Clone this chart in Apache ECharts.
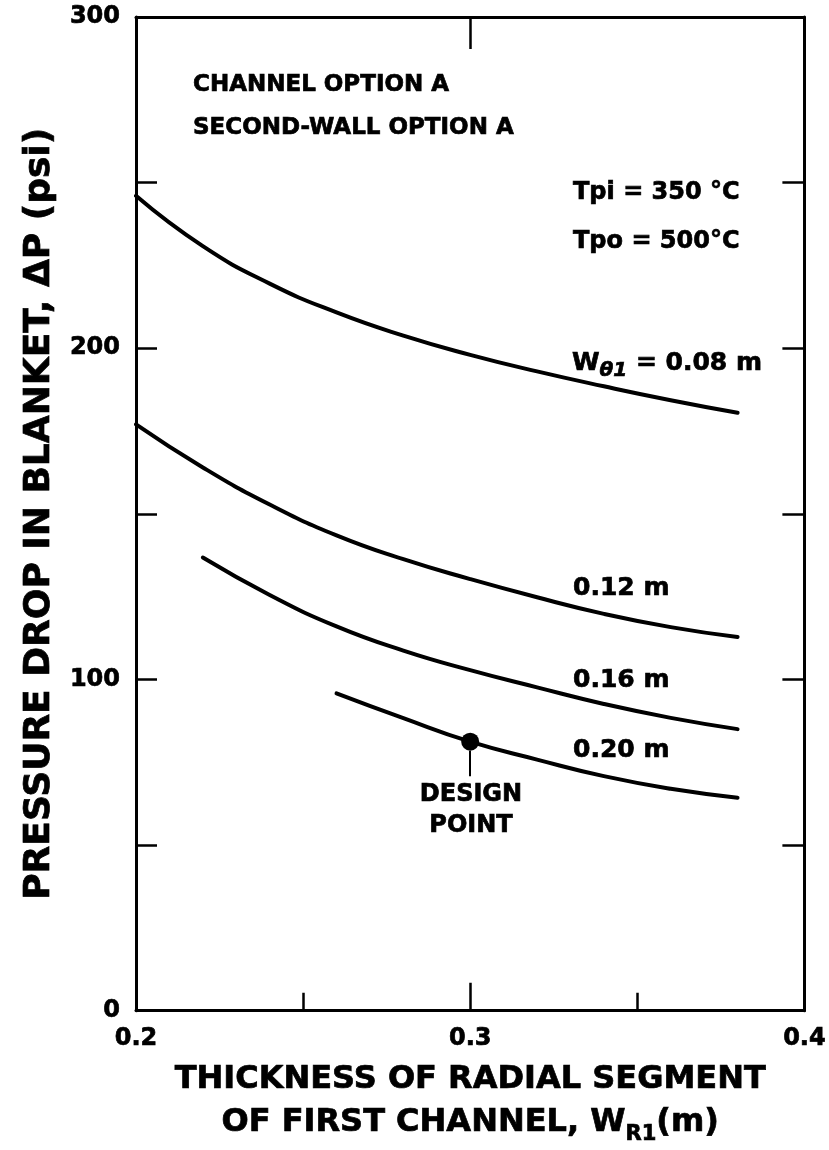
<!DOCTYPE html>
<html><head><meta charset="utf-8">
<script src="https://cdn.jsdelivr.net/npm/echarts@6/dist/echarts.min.js"></script>
<style>html,body{margin:0;padding:0;background:#fff}#c{width:829px;height:1150px}</style>
</head><body><div id="c"></div>
<script>
// ---- data ----
const xW008 = [0.20, 0.22, 0.24, 0.26, 0.28, 0.30, 0.32, 0.34, 0.36, 0.38];
const yW008 = [246, 230.8, 219.5, 210.8, 203.8, 198, 193, 188.5, 184.3, 180.5];
const xW012 = [0.20, 0.22, 0.24, 0.26, 0.28, 0.30, 0.32, 0.34, 0.36, 0.38];
const yW012 = [177, 164, 152.8, 143.5, 136.3, 130.3, 124.8, 119.8, 115.8, 112.8];
const xW016 = [0.22, 0.24, 0.26, 0.28, 0.30, 0.32, 0.34, 0.36, 0.38];
const yW016 = [136.8, 125.5, 116, 108.7, 102.8, 97.6, 92.6, 88.4, 85];
const xW020 = [0.26, 0.28, 0.30, 0.32, 0.34, 0.36, 0.38];
const yW020 = [95.8, 88.3, 81.2, 75.8, 70.8, 67, 64.3];
const designPoint = [0.30, 81.2];
const designLeader = [78.5, 70.8];
const xLabels = ['0.2', '0.3', '0.4'];
const yLabels = ['0', '100', '200', '300'];

const F = 'DejaVu Sans';
const SW = 0.7; // extra stroke to mimic the heavy typeface
const zip = (xs, ys) => xs.map((x, i) => [x, ys[i]]);
const curve = (name, xs, ys) => ({
  name, type: 'line', data: zip(xs, ys), smooth: 0.5, showSymbol: false, silent: true,
  lineStyle: { color: '#000', width: 4, cap: 'round' }, z: 3
});
const txt = (x, y, text, size, align) => ({
  type: 'text', x, y, silent: true,
  style: { text, fontFamily: F, fontWeight: 'bold', fontSize: size, fill: '#000',
    stroke: '#000', lineWidth: SW, textAlign: align || 'left', textVerticalAlign: 'middle' }
});

const chart = echarts.init(document.getElementById('c'), null, { renderer: 'canvas' });
const axisCommon = { min: 0, max: 300, interval: 50, splitLine: { show: false } };
const tickStyle = { color: '#000', width: 2.5 };
const labStyle = { color: '#000', fontFamily: F, fontWeight: 'bold', fontSize: 24, textBorderColor: '#000', textBorderWidth: SW };

chart.setOption({
  animation: false,
  backgroundColor: '#fff',
  grid: { left: 136, right: 24, top: 17, bottom: 137 },
  xAxis: [{
    type: 'value', position: 'bottom', min: 0.2, max: 0.4, interval: 0.1,
    splitLine: { show: false },
    axisLine: { show: true, onZero: false, lineStyle: { color: '#000', width: 3 } },
    axisTick: { show: true, inside: true, length: 28, lineStyle: tickStyle },
    minorTick: { show: true, splitNumber: 2, length: 18, lineStyle: tickStyle },
    axisLabel: Object.assign({ margin: 16,
      formatter: v => { const s = v.toFixed(1); return xLabels.indexOf(s) >= 0 ? s : ''; } }, labStyle),
    name: '{a|THICKNESS OF RADIAL SEGMENT}\n{a|OF FIRST CHANNEL, W}{s|R1}{a|(m)}',
    nameLocation: 'middle', nameGap: 48,
    nameTextStyle: {
      rich: {
        a: { fontFamily: F, fontWeight: 'bold', fontSize: 32, lineHeight: 43, color: '#000', verticalAlign: 'middle', textBorderColor: '#000', textBorderWidth: SW },
        s: { fontFamily: F, fontWeight: 'bold', fontSize: 21, lineHeight: 43, color: '#000', verticalAlign: 'bottom', textBorderColor: '#000', textBorderWidth: SW }
      }
    }
  }, {
    type: 'value', position: 'top', min: 0.2, max: 0.4, interval: 0.1,
    splitLine: { show: false },
    axisLine: { show: true, onZero: false, lineStyle: { color: '#000', width: 3 } },
    axisTick: { show: true, inside: true, length: 32, lineStyle: tickStyle },
    axisLabel: { show: false }
  }],
  yAxis: [Object.assign({
    type: 'value', position: 'left',
    axisLine: { show: true, onZero: false, lineStyle: { color: '#000', width: 3 } },
    axisTick: { show: true, inside: true, length: 21, lineStyle: tickStyle },
    axisLabel: Object.assign({ margin: 16,
      formatter: v => (yLabels.indexOf(String(v)) >= 0 ? String(v) : '') }, labStyle),
    name: 'PRESSURE DROP IN BLANKET, ΔP (psi)',
    nameLocation: 'middle', nameGap: 78, nameRotate: 90,
    nameTextStyle: { fontFamily: F, fontWeight: 'bold', fontSize: 36, color: '#000', textBorderColor: '#000', textBorderWidth: SW }
  }, axisCommon), Object.assign({
    type: 'value', position: 'right',
    axisLine: { show: true, onZero: false, lineStyle: { color: '#000', width: 3 } },
    axisTick: { show: true, inside: true, length: 22, lineStyle: tickStyle },
    axisLabel: { show: false }
  }, axisCommon)],
  series: [
    curve('0.08 m', xW008, yW008),
    curve('0.12 m', xW012, yW012),
    curve('0.16 m', xW016, yW016),
    curve('0.20 m', xW020, yW020),
    {
      name: 'Design point', type: 'scatter', data: [designPoint], symbol: 'circle', symbolSize: 18,
      itemStyle: { color: '#000', opacity: 1 }, silent: true, z: 5,
      markLine: {
        silent: true, symbol: ['none', 'none'], label: { show: false },
        lineStyle: { color: '#000', width: 2, type: 'solid', opacity: 1 },
        data: [[{ coord: [designPoint[0], designLeader[0]] }, { coord: [designPoint[0], designLeader[1]] }]]
      }
    }
  ],
  graphic: [
    txt(193, 85, 'CHANNEL OPTION A', 23),
    txt(193, 128, 'SECOND-WALL OPTION A', 23),
    txt(573, 193, 'Tpi = 350 °C', 24),
    txt(573, 242, 'Tpo = 500°C', 24),
    { type: 'text', x: 572, y: 363, silent: true, style: {
        text: '{w|W}{s|θ1}{w| = 0.08 m}', textVerticalAlign: 'middle',
        rich: {
          w: { fontFamily: F, fontWeight: 'bold', fontSize: 25, lineHeight: 36, fill: '#000', stroke: '#000', lineWidth: SW, verticalAlign: 'middle' },
          s: { fontFamily: F, fontWeight: 'bold', fontStyle: 'italic', fontSize: 20, lineHeight: 36, fill: '#000', stroke: '#000', lineWidth: SW, verticalAlign: 'bottom' }
        } } },
    txt(573, 588, '0.12 m', 25),
    txt(573, 680, '0.16 m', 25),
    txt(573, 750, '0.20 m', 25),
    txt(471, 795, 'DESIGN', 24, 'center'),
    txt(471, 826, 'POINT', 24, 'center')
  ]
});
</script></body></html>
